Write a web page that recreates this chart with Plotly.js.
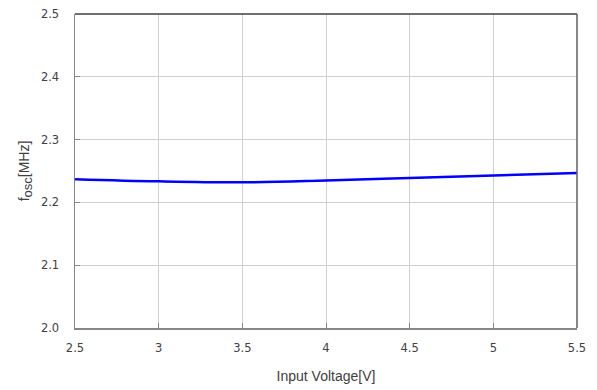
<!DOCTYPE html>
<html>
<head>
<meta charset="utf-8">
<script src="https://cdn.plot.ly/plotly-3.0.1.min.js"></script>
<style>html,body{margin:0;padding:0;background:#fff;}#chart{width:597px;height:390px;}</style>
</head>
<body>
<div id="chart"></div>
<script>
const inputVoltage = [2.5, 3.0, 3.5, 4.0, 4.5, 5.0, 5.5];
const fosc = [2.237, 2.2335, 2.232, 2.235, 2.239, 2.243, 2.247];
const xTicks = [2.5, 3, 3.5, 4, 4.5, 5, 5.5];
const xTickLabels = ['2.5', '3', '3.5', '4', '4.5', '5', '5.5'];
const yTicks = [2.0, 2.1, 2.2, 2.3, 2.4, 2.5];
const yTickLabels = ['2.0', '2.1', '2.2', '2.3', '2.4', '2.5'];

const trace = {
  x: inputVoltage, y: fosc, type: 'scatter', mode: 'lines',
  line: {color: '#0000ff', width: 2.5, shape: 'spline', smoothing: 1},
  hoverinfo: 'none'
};
const tickFont = {family: 'DejaVu Sans', size: 11.5, color: '#404040'};
const layout = {
  width: 597, height: 390,
  margin: {l: 75, r: 20, t: 14, b: 62},
  paper_bgcolor: '#ffffff', plot_bgcolor: '#ffffff',
  showlegend: false,
  xaxis: {
    range: [2.5, 5.5], tickvals: xTicks, ticktext: xTickLabels,
    showgrid: true, gridcolor: '#d0d0d0', gridwidth: 1,
    showline: true, linecolor: '#868686', linewidth: 1.5,
    ticks: 'inside', ticklen: 5, tickcolor: '#868686',
    tickfont: tickFont, zeroline: false, ticklabelstandoff: 9,
    title: {text: 'Input Voltage[V]', font: {family: 'Liberation Sans', size: 14, color: '#404040'}, standoff: 17}
  },
  yaxis: {
    range: [2.0, 2.5], tickvals: yTicks, ticktext: yTickLabels,
    showgrid: true, gridcolor: '#d0d0d0', gridwidth: 1,
    showline: true, linecolor: '#868686', linewidth: 1.5,
    ticks: 'inside', ticklen: 5, tickcolor: '#868686',
    tickfont: tickFont, zeroline: false, ticklabelstandoff: 12,
    title: {text: 'f<sub><span style="font-size:13px">osc</span></sub>[MHz]', font: {family: 'Liberation Sans', size: 14, color: '#404040'}, standoff: 8}
  },
  shapes: [
    {type: 'line', xref: 'paper', yref: 'paper', x0: 0, x1: 1, y0: 1, y1: 1, line: {color: '#404040', width: 1.5}},
    {type: 'line', xref: 'paper', yref: 'paper', x0: 1, x1: 1, y0: 0, y1: 1, line: {color: '#606060', width: 1.5}}
  ]
};
Plotly.newPlot('chart', [trace], layout, {displayModeBar: false, staticPlot: true});
</script>
</body>
</html>
